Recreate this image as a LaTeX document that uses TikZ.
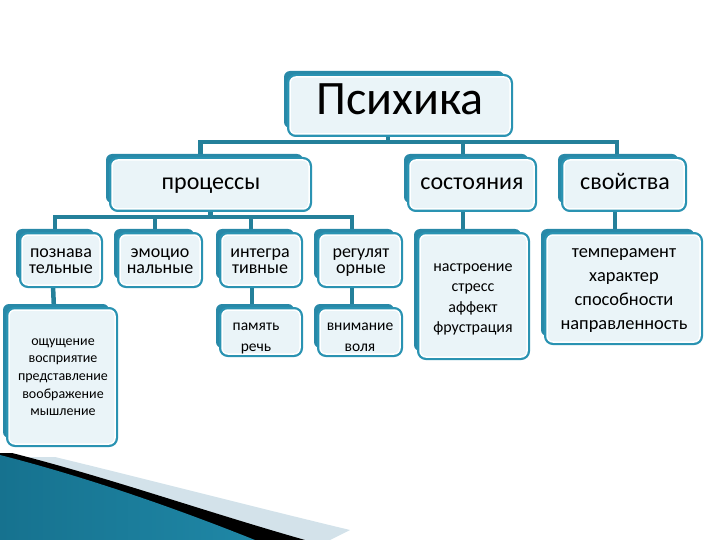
\documentclass[tikz,border=0pt]{standalone}
\usepackage{fontspec}
\setmainfont{Carlito}
\usetikzlibrary{shadows,backgrounds,calc}
\definecolor{tealb}{HTML}{2A93B2}
\definecolor{tealsh}{HTML}{2889A8}
\definecolor{boxfill}{HTML}{EAF4F8}
\definecolor{connc}{HTML}{24809A}
\definecolor{decoA}{HTML}{16728F}
\definecolor{decoB}{HTML}{58B7D6}
\definecolor{decoC}{HTML}{1F87A6}
\definecolor{decoG}{HTML}{D3E2EA}
\tikzset{
  box/.style={rectangle, rounded corners=6pt, fill=boxfill, draw=white, line width=1.5pt,
    general shadow={fill=tealsh, shadow xshift=-6pt, shadow yshift=6pt},
    preaction={draw=tealb, line width=6pt},
    inner sep=0pt},
  txt/.style={anchor=base, inner sep=0pt, align=center, text=black},
  conn/.style={draw=connc, line width=4.5pt},
}
\begin{document}
\begin{tikzpicture}[x=1pt,y=-1pt]
\useasboundingbox (0,0) rectangle (720,540);
% boxes
\node[box, minimum width=220, minimum height=57] (psy) at (400,105.5) {};
\node[box, minimum width=197, minimum height=49] (proc) at (210.5,184.5) {};
\node[box, minimum width=124, minimum height=49] (st) at (472,184.5) {};
\node[box, minimum width=120, minimum height=49] (sv) at (624,184.5) {};
\node[box, minimum width=78, minimum height=50] (pozn) at (61,260) {};
\node[box, minimum width=80, minimum height=50] (emo) at (160,260) {};
\node[box, minimum width=78, minimum height=50] (integ) at (261,260) {};
\node[box, minimum width=80, minimum height=50] (reg) at (360,260) {};
\node[box, minimum width=78, minimum height=44] (pam) at (261,332) {};
\node[box, minimum width=80, minimum height=44] (vn) at (360,332) {};
\node[box, minimum width=106, minimum height=134] (osh) at (62,377) {};
\node[box, minimum width=107, minimum height=122] (nastr) at (473.5,296) {};
\node[box, minimum width=153, minimum height=107] (temp) at (623.5,288.5) {};
% texts (anchor = baseline of the last line)
\node[txt, font=\fontsize{48}{48}\selectfont] (psyT) at (400,115) {Психика};
\node[txt, font=\fontsize{24}{24}\selectfont] (procT) at (211,190) {процессы};
\node[txt, font=\fontsize{24}{24}\selectfont] (stT) at (472,190) {состояния};
\node[txt, font=\fontsize{24}{24}\selectfont] (svT) at (625,190) {свойства};
\node[txt, font=\fontsize{18}{16.5}\selectfont] (poznT) at (61,273.5) {познава\\тельные};
\node[txt, font=\fontsize{18}{16.5}\selectfont] (emoT) at (160,273.5) {эмоцио\\нальные};
\node[txt, font=\fontsize{18}{16.5}\selectfont] (integT) at (260,273.5) {интегра\\тивные};
\node[txt, font=\fontsize{18}{16.5}\selectfont] (regT) at (361,273.5) {регулят\\орные};
\node[txt, font=\fontsize{15.5}{21}\selectfont] (pamT) at (256,351) {память\\речь};
\node[txt, font=\fontsize{15.5}{21}\selectfont] (vnT) at (360,351) {внимание\\воля};
\node[txt, font=\fontsize{14}{17.7}\selectfont] (oshT) at (63,415.8) {ощущение\\восприятие\\представление\\воображение\\мышление};
\node[txt, font=\fontsize{16}{20.5}\selectfont] (nastrT) at (473,332.5) {настроение\\стресс\\аффект\\фрустрация};
\node[txt, font=\fontsize{18.4}{24}\selectfont] (tempT) at (624,329) {темперамент\\характер\\способности\\направленность};
% connectors
\coordinate (bus1) at (0,142);
\coordinate (bus2) at (0,217);
\begin{scope}[on background layer]
\draw[conn] ([xshift=-12pt]psy.south) -- ([xshift=-12pt]psy.south |- bus1);
\draw[conn] ([xshift=-10pt]proc.north) |- ([xshift=-7pt]sv.north |- bus1) -- ([xshift=-7pt]sv.north);
\draw[conn] ([xshift=-9pt]st.north) -- ([xshift=-9pt]st.north |- bus1);
\draw[conn] ([xshift=-6pt]pozn.north) |- ([xshift=-8pt]reg.north |- bus2) -- ([xshift=-8pt]reg.north);
\draw[conn] (proc.south) -- (proc.south |- bus2);
\draw[conn] ([xshift=-5pt]emo.north) -- ([xshift=-5pt]emo.north |- bus2);
\draw[conn] ([xshift=-10pt]integ.north) -- ([xshift=-10pt]integ.north |- bus2);
\draw[conn] ([xshift=-8pt]pozn.south) -- ([xshift=-8pt]osh.north);
\draw[conn] ([xshift=-9pt]integ.south) -- ([xshift=-9pt]pam.north);
\draw[conn] ([xshift=-8pt]reg.south) -- ([xshift=-8pt]vn.north);
\draw[conn] ([xshift=-9pt]st.south) -- ([xshift=-9pt]st.south |- nastr.north);
\draw[conn] ([xshift=-9pt]sv.south) -- ([xshift=-9pt]sv.south |- temp.north);
\end{scope}
% bottom-left decoration
\fill[decoG] (55,457) .. controls (150,480) and (250,506) .. (350,530) -- (330,540) -- (0,540) -- (0,457) -- cycle;
\fill[black] (12,453) .. controls (110,478) and (200,510) .. (305,540) -- (0,540) -- (0,453) -- cycle;
\shade[left color=decoA, middle color=decoB, right color=decoC] (0,455) .. controls (90,478) and (180,510) .. (255,540) -- (0,540) -- cycle;
\end{tikzpicture}
\end{document}
